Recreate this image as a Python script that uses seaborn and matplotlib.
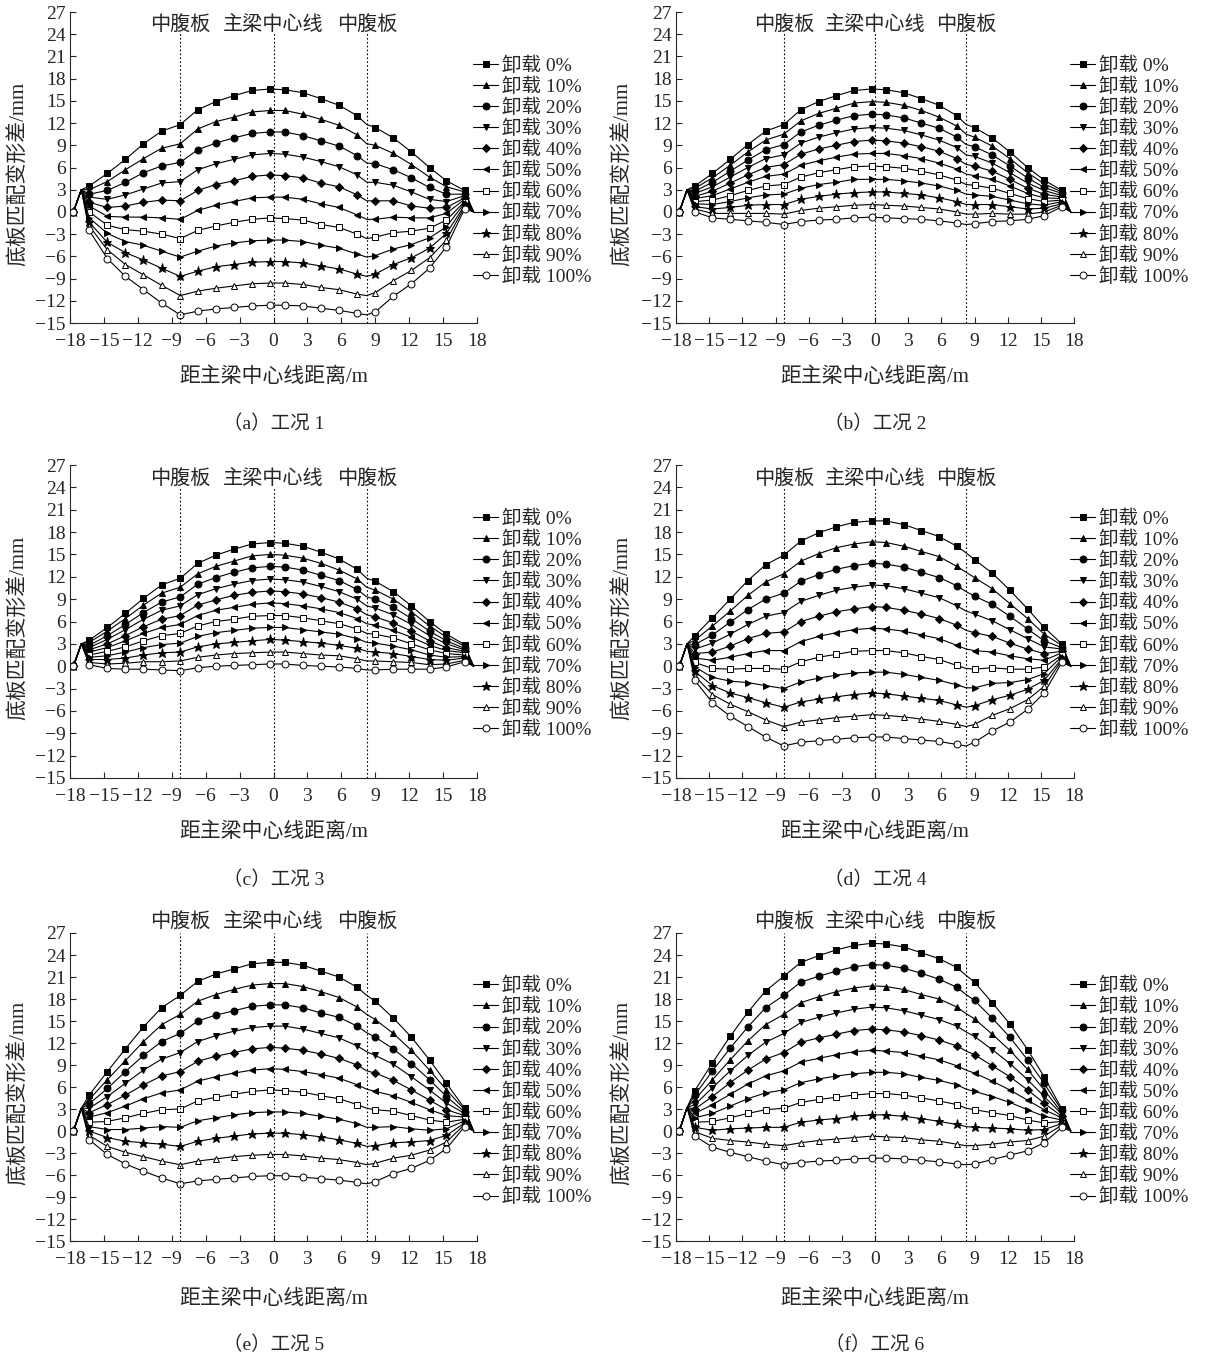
import matplotlib
matplotlib.use('Agg')
import matplotlib.pyplot as plt
from matplotlib.lines import Line2D
import seaborn as sns

# calculation points across the deck (m); apex and last point carry no marker
x_pos = [-17.7, -17.0, -16.3, -14.7, -13.1, -11.5, -9.9, -8.25, -6.7, -5.1, -3.5, -1.9, -0.3,
         1.0, 2.6, 4.2, 5.8, 7.4, 8.25, 9.0, 10.6, 12.2, 13.8, 15.3, 16.9, 17.7]
mark_idx = [0] + list(range(2, 18)) + list(range(19, 25))

labels = ['卸载 0%', '卸载 10%', '卸载 20%', '卸载 30%', '卸载 40%', '卸载 50%',
          '卸载 60%', '卸载 70%', '卸载 80%', '卸载 90%', '卸载 100%']
markers = ['s', '^', 'o', 'v', 'D', '<', 's', '>', '*', '^', 'o']
filled = [True, True, True, True, True, True, False, True, True, False, False]

# end values of every curve: start point, apex near the left edge, end point
start_val = 0.0
end_val = 0.0
apex_val = [3.0, 3.0, 3.0, 3.0, 3.1, 3.2]

# values at x_pos[2:25], one row per unloading stage
case1 = [
    [3.5, 5.2, 7.1, 9.2, 10.9, 11.8, 13.8, 14.9, 15.7, 16.4, 16.6, 16.5, 16.1, 15.3, 14.4, 13.0, 11.8, 11.4, 10.0, 8.1, 6.0, 4.2, 2.9],
    [3.0, 4.1, 5.7, 7.2, 8.6, 9.2, 11.2, 12.2, 12.8, 13.5, 13.7, 13.7, 13.2, 12.5, 11.7, 10.4, 9.2, 9.0, 7.9, 6.4, 4.7, 3.4, 2.7],
    [2.4, 2.9, 4.0, 5.3, 6.2, 6.7, 8.4, 9.3, 10.0, 10.6, 10.8, 10.8, 10.3, 9.6, 8.9, 7.6, 6.6, 6.5, 5.7, 4.6, 3.3, 2.4, 2.4],
    [2.0, 1.7, 2.3, 3.1, 3.9, 4.1, 5.7, 6.5, 7.1, 7.7, 7.9, 7.8, 7.4, 6.8, 6.1, 5.0, 4.0, 4.0, 3.6, 2.7, 1.7, 1.4, 2.2],
    [1.3, 0.6, 0.8, 1.3, 1.6, 1.5, 2.9, 3.7, 4.2, 4.8, 5.0, 4.9, 4.6, 3.9, 3.4, 2.3, 1.5, 1.5, 1.5, 0.8, 0.5, 0.6, 1.9],
    [0.8, -0.6, -0.7, -0.7, -0.8, -1.0, 0.2, 0.9, 1.4, 1.9, 2.0, 2.0, 1.7, 1.1, 0.6, -0.4, -1.0, -1.0, -0.7, -0.8, -0.8, -0.2, 1.7],
    [0.0, -1.8, -2.4, -2.6, -3.0, -3.6, -2.5, -1.9, -1.4, -1.0, -0.8, -0.9, -1.1, -1.7, -2.1, -3.0, -3.6, -3.4, -2.8, -2.6, -2.2, -1.1, 1.4],
    [-0.8, -2.9, -4.0, -4.5, -5.3, -6.1, -5.3, -4.6, -4.2, -3.9, -3.8, -3.8, -4.0, -4.5, -4.9, -5.7, -6.1, -5.9, -5.0, -4.4, -3.5, -2.0, 1.2],
    [-1.4, -4.1, -5.5, -6.5, -7.6, -8.7, -8.0, -7.4, -7.1, -6.8, -6.7, -6.7, -6.9, -7.3, -7.7, -8.4, -8.7, -8.4, -7.1, -6.2, -4.9, -2.9, 0.9],
    [-1.9, -5.1, -7.1, -8.5, -9.9, -11.3, -10.7, -10.3, -10.0, -9.7, -9.6, -9.6, -9.8, -10.2, -10.5, -11.1, -11.3, -10.9, -9.3, -7.9, -6.2, -3.8, 0.7],
    [-2.5, -6.3, -8.7, -10.5, -12.3, -13.9, -13.4, -13.1, -12.9, -12.7, -12.6, -12.6, -12.7, -13.0, -13.3, -13.7, -13.9, -13.5, -11.4, -9.7, -7.6, -4.7, 0.4],
]
case2 = [
    [3.5, 5.2, 7.1, 9.1, 10.9, 11.8, 13.8, 14.9, 15.7, 16.4, 16.6, 16.5, 16.1, 15.3, 14.4, 13.0, 11.8, 11.4, 10.0, 8.1, 6.0, 4.3, 2.9],
    [3.2, 4.6, 6.3, 8.1, 9.7, 10.5, 12.3, 13.3, 14.0, 14.7, 14.9, 14.8, 14.4, 13.7, 12.8, 11.6, 10.5, 10.1, 8.9, 7.2, 5.3, 3.8, 2.7],
    [2.8, 4.0, 5.5, 7.0, 8.4, 9.1, 10.8, 11.7, 12.4, 13.0, 13.2, 13.1, 12.7, 12.0, 11.3, 10.1, 9.1, 8.8, 7.7, 6.2, 4.6, 3.3, 2.5],
    [2.5, 3.4, 4.7, 6.0, 7.2, 7.7, 9.3, 10.1, 10.7, 11.2, 11.4, 11.3, 11.0, 10.4, 9.7, 8.7, 7.7, 7.5, 6.6, 5.3, 3.9, 2.9, 2.2],
    [2.1, 2.8, 3.9, 5.0, 6.0, 6.4, 7.8, 8.5, 9.0, 9.5, 9.7, 9.6, 9.3, 8.8, 8.2, 7.2, 6.4, 6.2, 5.5, 4.4, 3.2, 2.4, 2.0],
    [1.8, 2.2, 3.1, 4.0, 4.8, 5.1, 6.3, 6.9, 7.4, 7.8, 7.9, 7.9, 7.6, 7.2, 6.6, 5.8, 5.1, 4.9, 4.4, 3.5, 2.5, 1.9, 1.8],
    [1.4, 1.6, 2.2, 2.9, 3.5, 3.7, 4.7, 5.3, 5.7, 6.1, 6.2, 6.1, 5.9, 5.5, 5.0, 4.3, 3.7, 3.6, 3.2, 2.5, 1.8, 1.4, 1.6],
    [1.1, 1.0, 1.4, 1.9, 2.3, 2.4, 3.2, 3.7, 4.0, 4.4, 4.4, 4.4, 4.2, 3.9, 3.5, 2.9, 2.4, 2.3, 2.1, 1.6, 1.1, 0.9, 1.4],
    [0.7, 0.4, 0.6, 0.9, 1.0, 1.0, 1.7, 2.1, 2.4, 2.6, 2.7, 2.7, 2.5, 2.3, 1.9, 1.4, 1.0, 1.0, 1.0, 0.7, 0.4, 0.5, 1.1],
    [0.4, -0.2, -0.2, -0.2, -0.2, -0.3, 0.2, 0.5, 0.7, 0.9, 1.0, 0.9, 0.8, 0.6, 0.4, 0.0, -0.3, -0.3, -0.2, -0.3, -0.3, 0.0, 0.9],
    [0.0, -0.8, -1.0, -1.2, -1.4, -1.7, -1.3, -1.1, -1.0, -0.8, -0.7, -0.8, -0.9, -1.0, -1.2, -1.5, -1.7, -1.6, -1.3, -1.2, -1.0, -0.5, 0.7],
]
case3 = [
    [3.5, 5.2, 7.1, 9.1, 10.9, 11.8, 13.8, 14.9, 15.7, 16.4, 16.6, 16.5, 16.1, 15.3, 14.4, 13.0, 11.8, 11.4, 10.0, 8.1, 6.0, 4.3, 2.9],
    [3.2, 4.7, 6.4, 8.2, 9.8, 10.6, 12.4, 13.4, 14.1, 14.8, 15.0, 14.9, 14.5, 13.8, 12.9, 11.7, 10.6, 10.2, 9.0, 7.3, 5.4, 3.9, 2.7],
    [2.8, 4.1, 5.6, 7.2, 8.6, 9.3, 11.0, 11.9, 12.6, 13.2, 13.4, 13.3, 12.9, 12.2, 11.5, 10.3, 9.3, 9.0, 7.9, 6.4, 4.7, 3.4, 2.4],
    [2.5, 3.6, 4.9, 6.3, 7.5, 8.1, 9.6, 10.4, 11.0, 11.5, 11.7, 11.6, 11.3, 10.7, 10.0, 9.0, 8.1, 7.8, 6.9, 5.6, 4.1, 3.0, 2.2],
    [2.2, 3.0, 4.1, 5.3, 6.3, 6.8, 8.2, 8.9, 9.5, 9.9, 10.1, 10.0, 9.7, 9.2, 8.6, 7.7, 6.9, 6.6, 5.8, 4.7, 3.4, 2.5, 2.0],
    [1.9, 2.5, 3.4, 4.4, 5.2, 5.6, 6.8, 7.5, 7.9, 8.3, 8.5, 8.4, 8.1, 7.7, 7.2, 6.4, 5.7, 5.5, 4.8, 3.9, 2.8, 2.1, 1.8],
    [1.5, 2.0, 2.6, 3.4, 4.1, 4.4, 5.4, 6.0, 6.3, 6.7, 6.8, 6.8, 6.5, 6.1, 5.7, 5.0, 4.4, 4.3, 3.8, 3.0, 2.2, 1.7, 1.5],
    [1.2, 1.4, 1.9, 2.5, 2.9, 3.1, 4.0, 4.5, 4.8, 5.1, 5.2, 5.2, 4.9, 4.6, 4.3, 3.7, 3.2, 3.1, 2.7, 2.2, 1.5, 1.2, 1.3],
    [0.9, 0.9, 1.1, 1.5, 1.8, 1.9, 2.6, 3.0, 3.2, 3.4, 3.6, 3.5, 3.3, 3.1, 2.8, 2.4, 2.0, 1.9, 1.7, 1.3, 0.9, 0.8, 1.1],
    [0.5, 0.3, 0.4, 0.6, 0.6, 0.7, 1.2, 1.5, 1.7, 1.8, 1.9, 1.9, 1.7, 1.5, 1.4, 1.0, 0.7, 0.7, 0.6, 0.5, 0.2, 0.3, 0.8],
    [0.2, -0.3, -0.4, -0.4, -0.5, -0.6, -0.2, 0.0, 0.1, 0.2, 0.3, 0.3, 0.1, 0.0, -0.1, -0.3, -0.5, -0.5, -0.4, -0.4, -0.4, -0.1, 0.6],
]
case4 = [
    [4.1, 6.5, 9.0, 11.5, 13.6, 14.9, 16.8, 17.9, 18.7, 19.3, 19.5, 19.5, 19.0, 18.2, 17.4, 16.1, 15.2, 14.3, 12.5, 10.2, 7.7, 5.2, 3.0],
    [3.5, 5.4, 7.4, 9.5, 11.3, 12.4, 14.1, 15.1, 15.9, 16.4, 16.7, 16.6, 16.1, 15.4, 14.7, 13.4, 12.6, 11.9, 10.4, 8.4, 6.4, 4.3, 2.8],
    [2.9, 4.2, 5.9, 7.6, 9.0, 9.8, 11.4, 12.3, 13.0, 13.5, 13.8, 13.7, 13.3, 12.6, 11.9, 10.8, 10.0, 9.4, 8.3, 6.7, 5.0, 3.4, 2.5],
    [2.3, 3.1, 4.3, 5.6, 6.7, 7.2, 8.7, 9.5, 10.2, 10.6, 10.9, 10.8, 10.4, 9.8, 9.2, 8.1, 7.4, 7.0, 6.1, 4.9, 3.7, 2.6, 2.3],
    [1.7, 1.9, 2.7, 3.7, 4.4, 4.6, 6.0, 6.7, 7.3, 7.7, 8.0, 7.9, 7.5, 7.0, 6.4, 5.5, 4.8, 4.5, 4.0, 3.1, 2.3, 1.7, 2.0],
    [1.1, 0.8, 1.2, 1.7, 2.1, 2.1, 3.3, 4.0, 4.5, 4.9, 5.1, 5.0, 4.7, 4.2, 3.7, 2.8, 2.3, 2.1, 1.9, 1.4, 1.0, 0.8, 1.8],
    [0.5, -0.3, -0.4, -0.3, -0.3, -0.4, 0.6, 1.2, 1.6, 2.0, 2.1, 2.1, 1.8, 1.3, 0.9, 0.1, -0.3, -0.4, -0.2, -0.4, -0.4, -0.1, 1.5],
    [-0.1, -1.5, -2.0, -2.2, -2.6, -3.0, -2.1, -1.6, -1.2, -0.9, -0.8, -0.8, -1.1, -1.5, -1.9, -2.5, -2.9, -2.9, -2.3, -2.2, -1.8, -1.0, 1.3],
    [-0.7, -2.6, -3.6, -4.2, -4.9, -5.5, -4.8, -4.4, -4.1, -3.8, -3.6, -3.7, -4.0, -4.3, -4.6, -5.2, -5.5, -5.3, -4.5, -3.9, -3.1, -1.9, 1.0],
    [-1.3, -3.8, -5.1, -6.1, -7.2, -8.1, -7.5, -7.2, -6.9, -6.7, -6.5, -6.6, -6.8, -7.1, -7.4, -7.8, -8.1, -7.8, -6.6, -5.7, -4.5, -2.7, 0.8],
    [-1.9, -4.9, -6.7, -8.1, -9.5, -10.7, -10.2, -10.0, -9.8, -9.6, -9.5, -9.5, -9.7, -9.9, -10.1, -10.5, -10.7, -10.2, -8.7, -7.5, -5.8, -3.6, 0.5],
]
case5 = [
    [4.9, 8.1, 11.2, 14.2, 16.8, 18.5, 20.4, 21.4, 22.1, 22.8, 23.0, 23.0, 22.6, 21.8, 21.0, 19.6, 18.5, 17.7, 15.4, 12.8, 9.7, 6.5, 3.1],
    [4.3, 7.0, 9.6, 12.2, 14.5, 15.9, 17.7, 18.6, 19.3, 19.9, 20.1, 20.1, 19.7, 19.0, 18.2, 16.9, 15.9, 15.2, 13.3, 11.0, 8.3, 5.6, 2.9],
    [3.7, 5.8, 8.1, 10.3, 12.2, 13.3, 15.0, 15.8, 16.4, 17.0, 17.2, 17.2, 16.8, 16.1, 15.5, 14.3, 13.4, 12.8, 11.2, 9.2, 7.0, 4.7, 2.6],
    [3.1, 4.7, 6.5, 8.3, 9.8, 10.7, 12.2, 13.0, 13.6, 14.1, 14.3, 14.3, 13.9, 13.3, 12.7, 11.6, 10.8, 10.3, 9.1, 7.4, 5.6, 3.8, 2.4],
    [2.5, 3.6, 4.9, 6.3, 7.5, 8.1, 9.5, 10.2, 10.7, 11.2, 11.4, 11.3, 11.0, 10.5, 9.9, 9.0, 8.2, 7.9, 6.9, 5.6, 4.2, 2.9, 2.1],
    [1.9, 2.5, 3.4, 4.4, 5.2, 5.6, 6.8, 7.4, 7.9, 8.3, 8.5, 8.4, 8.1, 7.7, 7.2, 6.3, 5.7, 5.4, 4.8, 3.9, 2.9, 2.1, 1.9],
    [1.2, 1.3, 1.8, 2.4, 2.9, 3.0, 4.1, 4.6, 5.0, 5.4, 5.6, 5.5, 5.3, 4.8, 4.4, 3.6, 3.1, 2.9, 2.7, 2.1, 1.5, 1.2, 1.6],
    [0.6, 0.2, 0.2, 0.4, 0.6, 0.5, 1.4, 1.8, 2.2, 2.5, 2.6, 2.6, 2.4, 2.0, 1.6, 1.0, 0.5, 0.5, 0.6, 0.3, 0.1, 0.3, 1.4],
    [0.0, -0.9, -1.4, -1.6, -1.8, -2.1, -1.4, -1.0, -0.7, -0.4, -0.3, -0.3, -0.5, -0.8, -1.2, -1.7, -2.1, -2.0, -1.6, -1.5, -1.3, -0.6, 1.1],
    [-0.6, -2.1, -2.9, -3.5, -4.1, -4.6, -4.1, -3.8, -3.5, -3.3, -3.2, -3.2, -3.4, -3.7, -3.9, -4.3, -4.6, -4.4, -3.7, -3.3, -2.6, -1.5, 0.9],
    [-1.2, -3.2, -4.5, -5.5, -6.4, -7.2, -6.8, -6.6, -6.4, -6.2, -6.1, -6.1, -6.3, -6.5, -6.7, -7.0, -7.2, -6.9, -5.8, -5.1, -4.0, -2.4, 0.6],
]
# in case 6 the 10%/20% and 60%/70% curves sit in swapped order, as printed
case6 = [
    [5.5, 9.3, 12.9, 16.2, 19.1, 21.1, 23.0, 23.9, 24.7, 25.3, 25.6, 25.5, 25.1, 24.3, 23.5, 22.3, 21.2, 20.3, 17.5, 14.6, 11.1, 7.4, 3.0],
    [4.3, 7.0, 9.7, 12.3, 14.5, 15.9, 17.5, 18.3, 19.0, 19.5, 19.8, 19.7, 19.3, 18.6, 18.0, 16.9, 16.0, 15.3, 13.2, 11.0, 8.4, 5.6, 2.5],
    [4.9, 8.2, 11.3, 14.2, 16.8, 18.5, 20.3, 21.1, 21.8, 22.4, 22.7, 22.6, 22.2, 21.5, 20.7, 19.6, 18.6, 17.8, 15.4, 12.8, 9.7, 6.5, 2.8],
    [3.6, 5.9, 8.2, 10.3, 12.1, 13.3, 14.8, 15.5, 16.1, 16.6, 16.9, 16.8, 16.4, 15.8, 15.2, 14.3, 13.5, 12.9, 11.1, 9.2, 7.0, 4.7, 2.3],
    [3.0, 4.7, 6.6, 8.3, 9.8, 10.7, 12.1, 12.7, 13.2, 13.7, 13.9, 13.8, 13.5, 13.0, 12.4, 11.6, 10.9, 10.4, 8.9, 7.4, 5.6, 3.8, 2.0],
    [2.4, 3.6, 5.0, 6.4, 7.5, 8.2, 9.4, 9.9, 10.4, 10.8, 11.0, 10.9, 10.7, 10.2, 9.7, 8.9, 8.3, 7.9, 6.8, 5.6, 4.2, 2.9, 1.8],
    [1.2, 1.3, 1.8, 2.4, 2.9, 3.1, 3.9, 4.3, 4.6, 4.9, 5.1, 5.1, 4.9, 4.5, 4.1, 3.6, 3.1, 2.9, 2.5, 2.1, 1.5, 1.1, 1.3],
    [1.8, 2.4, 3.4, 4.4, 5.2, 5.6, 6.6, 7.1, 7.5, 7.8, 8.0, 8.0, 7.8, 7.3, 6.9, 6.3, 5.7, 5.4, 4.7, 3.9, 2.9, 2.0, 1.5],
    [0.5, 0.1, 0.3, 0.4, 0.5, 0.5, 1.2, 1.5, 1.7, 2.0, 2.2, 2.2, 2.0, 1.7, 1.3, 0.9, 0.6, 0.5, 0.4, 0.3, 0.1, 0.2, 1.0],
    [-0.1, -1.0, -1.3, -1.5, -1.8, -2.0, -1.6, -1.3, -1.1, -0.9, -0.7, -0.8, -0.9, -1.2, -1.4, -1.8, -2.0, -2.0, -1.8, -1.5, -1.3, -0.7, 0.8],
    [-0.7, -2.2, -2.9, -3.5, -4.1, -4.6, -4.3, -4.1, -4.0, -3.8, -3.7, -3.7, -3.8, -4.0, -4.2, -4.5, -4.6, -4.5, -3.9, -3.3, -2.7, -1.6, 0.5],
]
cases = [case1, case2, case3, case4, case5, case6]
captions = ['（a）工况 1', '（b）工况 2', '（c）工况 3', '（d）工况 4', '（e）工况 5', '（f）工况 6']
web_x = [-8.25, 0.0, 8.25]
web_names = ['中腹板', '主梁中心线', '中腹板']

sns.set_style('ticks')
plt.rcParams['font.family'] = ['Liberation Serif', 'Noto Sans CJK SC']
plt.rcParams['axes.unicode_minus'] = True

W, H = 1215, 1357
fig = plt.figure(figsize=(W / 100, H / 100), dpi=100)

# axes boxes in pixels: left, top, right, bottom
col_px = [(70, 477), (676, 1074)]
row_px = [(12, 323), (465, 778), (933, 1241)]
text_y = [25.2, 25.2, 25.0, 25.0, 28.4, 28.4]
vline_top = [24.2, 24.2, 24.0, 24.0, 27.0, 27.0]
xlabel_py = [377, 832, 1299]
caption_py = [424, 880, 1345]
ylabel_px = [19, 623]


def msize(m):
    return 6.8 if m == '*' else (4.3 if m == 'D' else 5.0)


for k, data in enumerate(cases):
    r, c = divmod(k, 2)
    l, rr = col_px[c]
    t, b = row_px[r]
    ax = fig.add_axes([l / W, 1 - b / H, (rr - l) / W, (b - t) / H])

    for i, row in enumerate(data):
        y = [start_val, apex_val[k]] + row + [end_val]
        sns.lineplot(x=x_pos, y=y, ax=ax, color='black', lw=0.8,
                     marker=markers[i], markevery=mark_idx, markersize=msize(markers[i]),
                     markerfacecolor='black' if filled[i] else 'white',
                     markeredgecolor='black', markeredgewidth=0.7)

    ax.vlines(web_x, -15, vline_top[k], colors='black', linestyles=(0, (1.5, 2.0)), lw=0.8)
    for xv, name in zip(web_x, web_names):
        ax.text(xv, text_y[k], name, ha='center', va='center', fontsize=14.5)

    ax.set_xlim(-18, 18)
    ax.set_ylim(-15, 27)
    ax.set_xticks(range(-18, 19, 3))
    ax.set_yticks(range(-15, 28, 3))
    ax.tick_params(direction='in', length=4, width=0.8, labelsize=14)
    ax.tick_params(axis='x', pad=7)
    ax.tick_params(axis='y', pad=3)
    ax.set_xlabel('')
    ax.set_ylabel('')
    sns.despine(ax=ax)
    for s in ['left', 'bottom']:
        ax.spines[s].set_linewidth(0.8)

    handles = [Line2D([], [], color='black', lw=0.8, marker=markers[i], markersize=msize(markers[i]),
                      markerfacecolor='black' if filled[i] else 'white',
                      markeredgecolor='black', markeredgewidth=0.7) for i in range(11)]
    ax.legend(handles, labels, loc='upper left', bbox_to_anchor=(0.99, 0.858),
              frameon=False, fontsize=14, handlelength=1.3, handletextpad=0.2,
              labelspacing=0.14, borderaxespad=0, borderpad=0)

    cx = (l + rr) / 2
    fig.text(cx / W, 1 - xlabel_py[r] / H, '距主梁中心线距离/m', ha='center', va='center', fontsize=15)
    fig.text(cx / W, 1 - caption_py[r] / H, captions[k], ha='center', va='center', fontsize=14)
    fig.text(ylabel_px[c] / W, 1 - ((t + b) / 2 + 6) / H, '底板匹配变形差/mm', ha='center', va='center',
             rotation=90, fontsize=15)

fig.savefig('out.png', dpi=100)
